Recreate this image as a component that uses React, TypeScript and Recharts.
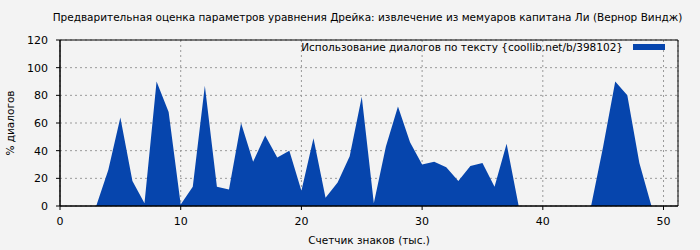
import React from 'react';
import { Area, AreaChart, CartesianGrid, ReferenceArea, XAxis, YAxis } from 'recharts';

const positions = [
  0, 1, 2, 3, 4, 5, 6, 7, 8, 9, 10, 11, 12, 13, 14, 15, 16, 17, 18, 19, 20, 21, 22, 23, 24, 25,
  26, 27, 28, 29, 30, 31, 32, 33, 34, 35, 36, 37, 38, 39, 40, 41, 42, 43, 44, 45, 46, 47, 48, 49,
];
const dialogShare = [
  0, 0, 0, 0, 26, 64, 18, 2, 90, 68, 1, 14, 87, 14, 12, 60, 32, 51, 35, 40, 11, 49, 6, 17, 36, 79,
  2, 43, 72, 46, 30, 32, 28, 18, 29, 31, 14, 45, 0, 0, 0, 0, 0, 0, 0, 43, 90, 80, 31, 0,
];
const xTicks = [0, 10, 20, 30, 40, 50];
const yTicks = [0, 20, 40, 60, 80, 100, 120];

const chartData = positions.map((x, i) => ({ x, value: dialogShare[i] }));

const font = '"DejaVu Sans", sans-serif';
const blue = '#0645ad';
const txt = { fontFamily: font, fontSize: 10.5, color: '#000' };

const App = () => {
  return (
    <div style={{ position: 'absolute', left: 0, top: 0, width: 700, height: 250, background: '#f3f3f3' }}>
      <div style={{ ...txt, position: 'absolute', top: 11, left: 0, width: 735, textAlign: 'center' }}>
        Предварительная оценка параметров уравнения Дрейка: извлечение из мемуаров капитана Ли (Вернор Виндж)
      </div>
      <div
        style={{
          ...txt, position: 'absolute', left: 10, top: 123, whiteSpace: 'nowrap',
          transform: 'translate(-50%, -50%) rotate(-90deg)',
        }}
      >
        % диалогов
      </div>
      <AreaChart width={700} height={250} data={chartData} margin={{ top: 40, right: 22, left: 0, bottom: 0 }}>
        <CartesianGrid stroke="#999" strokeDasharray="2 3" />
        <XAxis
          dataKey="x" type="number" domain={[0, 51.2]} ticks={xTicks} height={44}
          tick={{ fontFamily: font, fontSize: 11, fill: '#000' }}
          tickSize={4} tickMargin={7} stroke="#000"
          label={{ value: 'Счетчик знаков (тыс.)', position: 'insideBottom', offset: 6, fontFamily: font, fontSize: 10.5, fill: '#000' }}
        />
        <YAxis
          type="number" domain={[0, 120]} ticks={yTicks} width={60}
          tick={{ fontFamily: font, fontSize: 11, fill: '#000' }}
          tickSize={4} tickMargin={8} stroke="#000"
        />
        <Area
          type="linear" dataKey="value" stroke="none" fill={blue} fillOpacity={1}
          isAnimationActive={false} dot={false} activeDot={false}
        />
        <ReferenceArea x1={0} x2={51.2} y1={0} y2={120} fill="none" stroke="#000" strokeWidth={1} ifOverflow="extendDomain" />
      </AreaChart>
      <div style={{ ...txt, position: 'absolute', top: 41, right: 35, display: 'flex', alignItems: 'center' }}>
        <span>Использование диалогов по тексту {'{coollib.net/b/398102}'}</span>
        <span style={{ display: 'inline-block', width: 32, height: 6, background: blue, marginLeft: 10 }} />
      </div>
    </div>
  );
};

export default App;
